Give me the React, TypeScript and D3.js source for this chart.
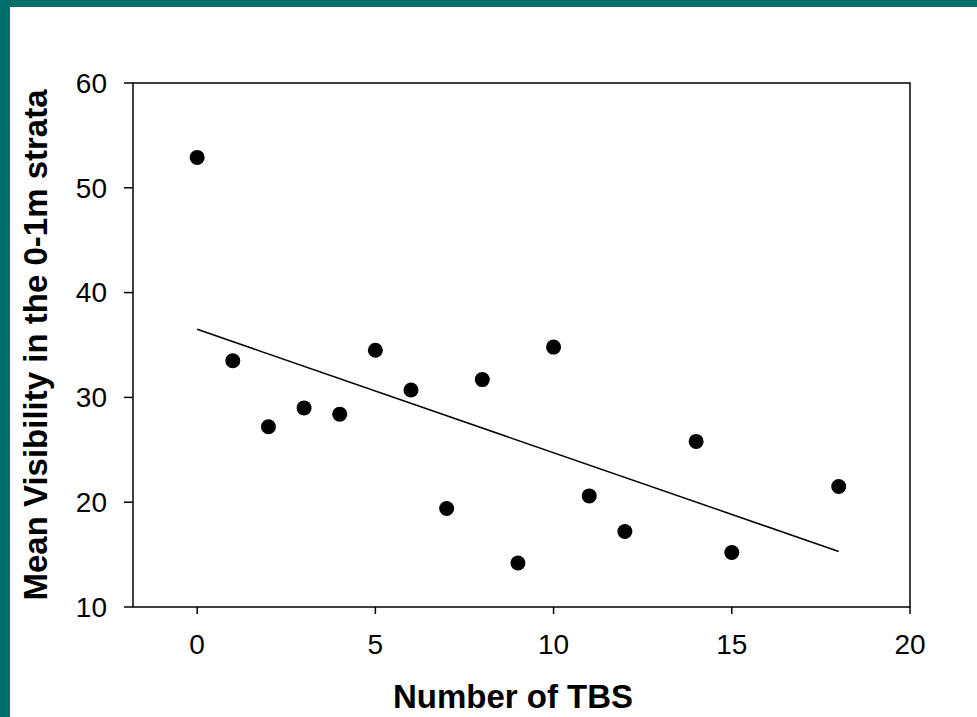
import React from "react";
import * as d3 from "d3";

const tbs = [0, 1, 2, 3, 4, 5, 6, 7, 8, 9, 10, 11, 12, 14, 15, 18];
const visibility = [52.9, 33.5, 27.2, 29.0, 28.4, 34.5, 30.7, 19.4, 31.7, 14.2, 34.8, 20.6, 17.2, 25.8, 15.2, 21.5];
const fitX = [0, 18];
const fitY = [36.5, 15.3];
const xTicks = [0, 5, 10, 15, 20];
const yTicks = [10, 20, 30, 40, 50, 60];
const xTitle = "Number of TBS";
const yTitle = "Mean Visibility in the 0-1m strata";

const W = 977;
const H = 717;
const left = 133, right = 910, top = 83, bottom = 607;

export default function App() {
  const x = d3.scaleLinear().domain([-1.8, 20]).range([left, right]);
  const y = d3.scaleLinear().domain([10, 60]).range([bottom, top]);
  const line = d3.line<number>().x((_, i) => x(fitX[i])).y((d) => y(d));
  const font = "'Liberation Sans', Arial, Helvetica, sans-serif";
  return (
    <div>
      <style>{"body{margin:0}"}</style>
      <svg width={W} height={H} style={{ display: "block" }} fontFamily={font}>
        <rect x={0} y={0} width={W} height={H} fill="#006e6b" />
        <rect x={10} y={7} width={W - 10} height={H - 7} fill="#ffffff" />
        <rect x={left} y={top} width={right - left} height={bottom - top} fill="none" stroke="#000" strokeWidth={1.5} />
        {yTicks.map((t) => (
          <g key={"y" + t}>
            <line x1={left - 9} x2={left} y1={y(t)} y2={y(t)} stroke="#000" strokeWidth={1.5} />
            <text x={107} y={y(t)} dy="0.35em" textAnchor="end" fontSize={28}>{t}</text>
          </g>
        ))}
        {xTicks.map((t) => (
          <g key={"x" + t}>
            <line x1={x(t)} x2={x(t)} y1={bottom} y2={bottom + 7} stroke="#000" strokeWidth={1.5} />
            <text x={x(t)} y={654} textAnchor="middle" fontSize={28}>{t}</text>
          </g>
        ))}
        <path d={line(fitY) || ""} fill="none" stroke="#000" strokeWidth={1.5} />
        {tbs.map((d, i) => (
          <circle key={i} cx={x(d)} cy={y(visibility[i])} r={7.5} fill="#000" />
        ))}
        <text x={513} y={708} textAnchor="middle" fontSize={33} fontWeight="bold">{xTitle}</text>
        <text transform={`translate(47,${(top + bottom) / 2}) rotate(-90)`} textAnchor="middle" fontSize={33} fontWeight="bold">{yTitle}</text>
      </svg>
    </div>
  );
}
